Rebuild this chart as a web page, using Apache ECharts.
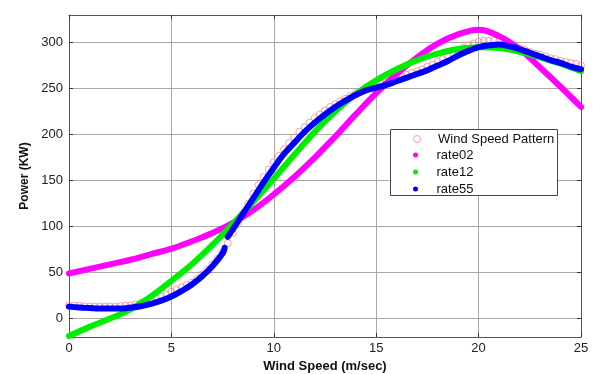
<!DOCTYPE html>
<html>
<head>
<meta charset="utf-8">
<title>Power vs Wind Speed</title>
<script src="https://cdn.jsdelivr.net/npm/echarts@6/dist/echarts.min.js"></script>
<style>
  html, body { margin: 0; padding: 0; background: #ffffff; }
  #chart { width: 596px; height: 374px; }
</style>
</head>
<body>
<div id="chart"></div>
<script>
// Measured wind speed pattern (m/sec -> KW), one sample every 0.25 m/sec
const patternSpeed = [
  0, 0.25, 0.5, 0.75, 1, 1.25, 1.5, 1.75, 2, 2.25, 2.5, 2.75, 3, 3.25, 3.5, 3.75,
  4, 4.25, 4.5, 4.75, 5, 5.25, 5.5, 5.75, 6, 6.25, 6.5, 6.75, 7, 7.25, 7.5, 7.75,
  8, 8.25, 8.5, 8.75, 9, 9.25, 9.5, 9.75, 10, 10.25, 10.5, 10.75, 11, 11.25, 11.5, 11.75,
  12, 12.25, 12.5, 12.75, 13, 13.25, 13.5, 13.75, 14, 14.25, 14.5, 14.75, 15, 15.25, 15.5, 15.75,
  16, 16.25, 16.5, 16.75, 17, 17.25, 17.5, 17.75, 18, 18.25, 18.5, 18.75, 19, 19.25, 19.5, 19.75,
  20, 20.25, 20.5, 20.75, 21, 21.25, 21.5, 21.75, 22, 22.25, 22.5, 22.75, 23, 23.25, 23.5, 23.75,
  24, 24.25, 24.5, 24.75, 25
];
const patternPower = [
  14, 14, 14, 13.5, 13, 13, 13, 13, 13, 13, 13.5, 14, 14.5, 15.5, 17, 18.5,
  20, 22, 24, 26.5, 29, 31.5, 34, 36.5, 39, 43, 48, 53, 59, 65, 72, 82,
  93, 103, 114, 125, 136, 145, 154, 162, 170, 177, 184, 191, 197, 203, 208, 213,
  218, 222, 226, 230, 233, 236, 239, 242, 245, 247, 249, 251, 253, 255, 257, 259,
  261, 263, 265, 267, 269, 271, 274, 276, 279, 282, 285, 288, 291, 294, 297, 299,
  301, 302, 302, 302, 301, 300, 298, 296, 294, 292, 290, 288, 287, 285, 283, 282,
  280, 279, 278, 277, 275
];

// Fitted curves, sampled every 1 m/sec
const rateSpeed = [0, 1, 2, 3, 4, 5, 6, 7, 8, 9, 10, 11, 12, 13, 14, 15, 16, 17, 18, 19, 20, 21, 22, 23, 24, 25];
const rate02 = [49, 54, 59, 64, 70, 76, 84, 93, 104, 118, 135, 154, 175, 198, 222, 245, 266, 284, 299, 309, 314, 307, 293, 273, 252, 230];
const rate12 = [-19, -9, 0, 10, 24, 41, 59, 80, 103, 127, 152, 178, 203, 225, 244, 259, 271, 281, 288, 293, 295, 294, 290, 284, 277, 269];

// rate55 is drawn in two pieces, split at about 7.7 m/sec
const rate55LowSpeed = [0, 0.5, 1, 1.5, 2, 2.5, 3, 3.5, 4, 4.5, 5, 5.5, 6, 6.5, 7, 7.5, 7.6];
const rate55Low = [13, 12, 11.5, 11, 11, 11, 12, 13.5, 16, 19.5, 24, 30, 37, 46, 57, 71, 77];
const rate55HighSpeed = [7.75, 8, 8.5, 9, 9.5, 10, 10.5, 11, 11.5, 12, 12.5, 13, 13.5, 14, 14.5, 15, 15.5,
  16, 16.5, 17, 17.5, 18, 18.5, 19, 19.5, 20, 20.5, 21, 21.5, 22, 22.5, 23, 23.5, 24, 24.5, 25];
const rate55High = [89, 97, 114, 131, 148, 164, 179, 191, 203, 213, 222, 230, 237, 243, 248, 251, 254,
  258, 262, 266, 270, 275, 280, 286, 291, 295, 297, 298, 296, 293, 289, 285, 281, 278, 274, 271];

const powerTicks = [0, 50, 100, 150, 200, 250, 300];

const pairs = (xs, ys) => xs.map((x, i) => [x, ys[i]]);

const FONT = '"Liberation Sans", Arial, Helvetica, sans-serif';
const PINK = '#ef8c8c';

const chart = echarts.init(document.getElementById('chart'), null, { renderer: 'canvas' });

const curveLine = (name, xs, ys, color) => ({
  name: name,
  type: 'line',
  data: pairs(xs, ys),
  smooth: 0.4,
  showSymbol: false,
  symbol: 'circle',
  itemStyle: { color: color },
  lineStyle: { color: color, width: 6, cap: 'round', join: 'round' },
  emphasis: { disabled: true },
  animation: false,
  z: 3
});

const hiddenFrameAxis = {
  type: 'value',
  axisLine: { show: true, onZero: false, lineStyle: { color: '#555', width: 1 } },
  axisLabel: { show: false },
  splitLine: { show: false }
};

chart.setOption({
  backgroundColor: '#ffffff',
  animation: false,
  grid: { left: 69, right: 15, top: 15, bottom: 37, containLabel: false, outerBoundsMode: 'none' },
  xAxis: [
    {
      type: 'value', min: 0, max: 25, interval: 5,
      name: 'Wind Speed (m/sec)', nameLocation: 'middle', nameGap: 15,
      nameTextStyle: { fontFamily: FONT, fontSize: 13, fontWeight: 'bold', color: '#111' },
      axisLine: { show: true, onZero: false, lineStyle: { color: '#555', width: 1 } },
      axisTick: { show: true, inside: true, length: 4, lineStyle: { color: '#333' } },
      axisLabel: { margin: 5, fontFamily: FONT, fontSize: 13, color: '#222' },
      splitLine: { show: true, lineStyle: { color: '#a8a8a8', width: 1 } }
    },
    Object.assign({}, hiddenFrameAxis, {
      position: 'top', min: 0, max: 25, interval: 5,
      axisTick: { show: true, inside: true, length: 4, lineStyle: { color: '#333' } }
    })
  ],
  yAxis: [
    {
      type: 'value', min: -20, max: 330,
      name: 'Power (KW)', nameLocation: 'middle', nameGap: 26,
      nameTextStyle: { fontFamily: FONT, fontSize: 12, fontWeight: 'bold', color: '#111' },
      axisLine: { show: true, onZero: false, lineStyle: { color: '#555', width: 1 } },
      axisTick: { show: true, inside: true, length: 4, customValues: powerTicks, lineStyle: { color: '#333' } },
      axisLabel: { margin: 6, fontFamily: FONT, fontSize: 13, color: '#222', customValues: powerTicks },
      splitLine: { show: true, customValues: powerTicks, lineStyle: { color: '#a8a8a8', width: 1 } }
    },
    Object.assign({}, hiddenFrameAxis, {
      position: 'right', min: -20, max: 330,
      axisTick: { show: true, inside: true, length: 4, customValues: powerTicks, lineStyle: { color: '#333' } },
      axisLabel: { show: false, customValues: powerTicks }
    })
  ],
  legend: [
    {
      orient: 'vertical', left: 413, top: 132, padding: 0,
      itemWidth: 32, itemHeight: 7, itemGap: 2,
      selectedMode: false,
      textStyle: { fontFamily: FONT, fontSize: 13, color: '#111', lineHeight: 14 },
      data: [{
        name: 'Wind Speed Pattern', icon: 'circle',
        itemStyle: { color: 'rgba(0,0,0,0)', borderColor: PINK, borderWidth: 1 }
      }],
      z: 5
    },
    {
      orient: 'vertical', left: 413, top: 148, padding: 0,
      itemWidth: 32, itemHeight: 5, itemGap: 3,
      selectedMode: false,
      textStyle: { fontFamily: FONT, fontSize: 13, color: '#111', lineHeight: 14 },
      data: [
        { name: 'rate02', icon: 'circle' },
        { name: 'rate12', icon: 'circle' },
        { name: 'rate55', icon: 'circle' }
      ],
      z: 5
    }
  ],
  graphic: [{
    type: 'rect', z: 4,
    shape: { x: 390.5, y: 129.5, width: 167, height: 66 },
    style: { fill: '#ffffff', stroke: '#444', lineWidth: 1 }
  }],
  series: [
    {
      name: 'Wind Speed Pattern',
      type: 'scatter',
      data: pairs(patternSpeed, patternPower),
      symbol: 'circle',
      symbolSize: 7,
      itemStyle: { color: 'rgba(0,0,0,0)', borderColor: PINK, borderWidth: 1 },
      emphasis: { disabled: true },
      animation: false,
      z: 2
    },
    curveLine('rate02', rateSpeed, rate02, '#ff00ff'),
    curveLine('rate12', rateSpeed, rate12, '#00ee00'),
    curveLine('rate55', rate55LowSpeed, rate55Low, '#0000ff'),
    curveLine('rate55', rate55HighSpeed, rate55High, '#0000ff')
  ]
});
</script>
</body>
</html>
